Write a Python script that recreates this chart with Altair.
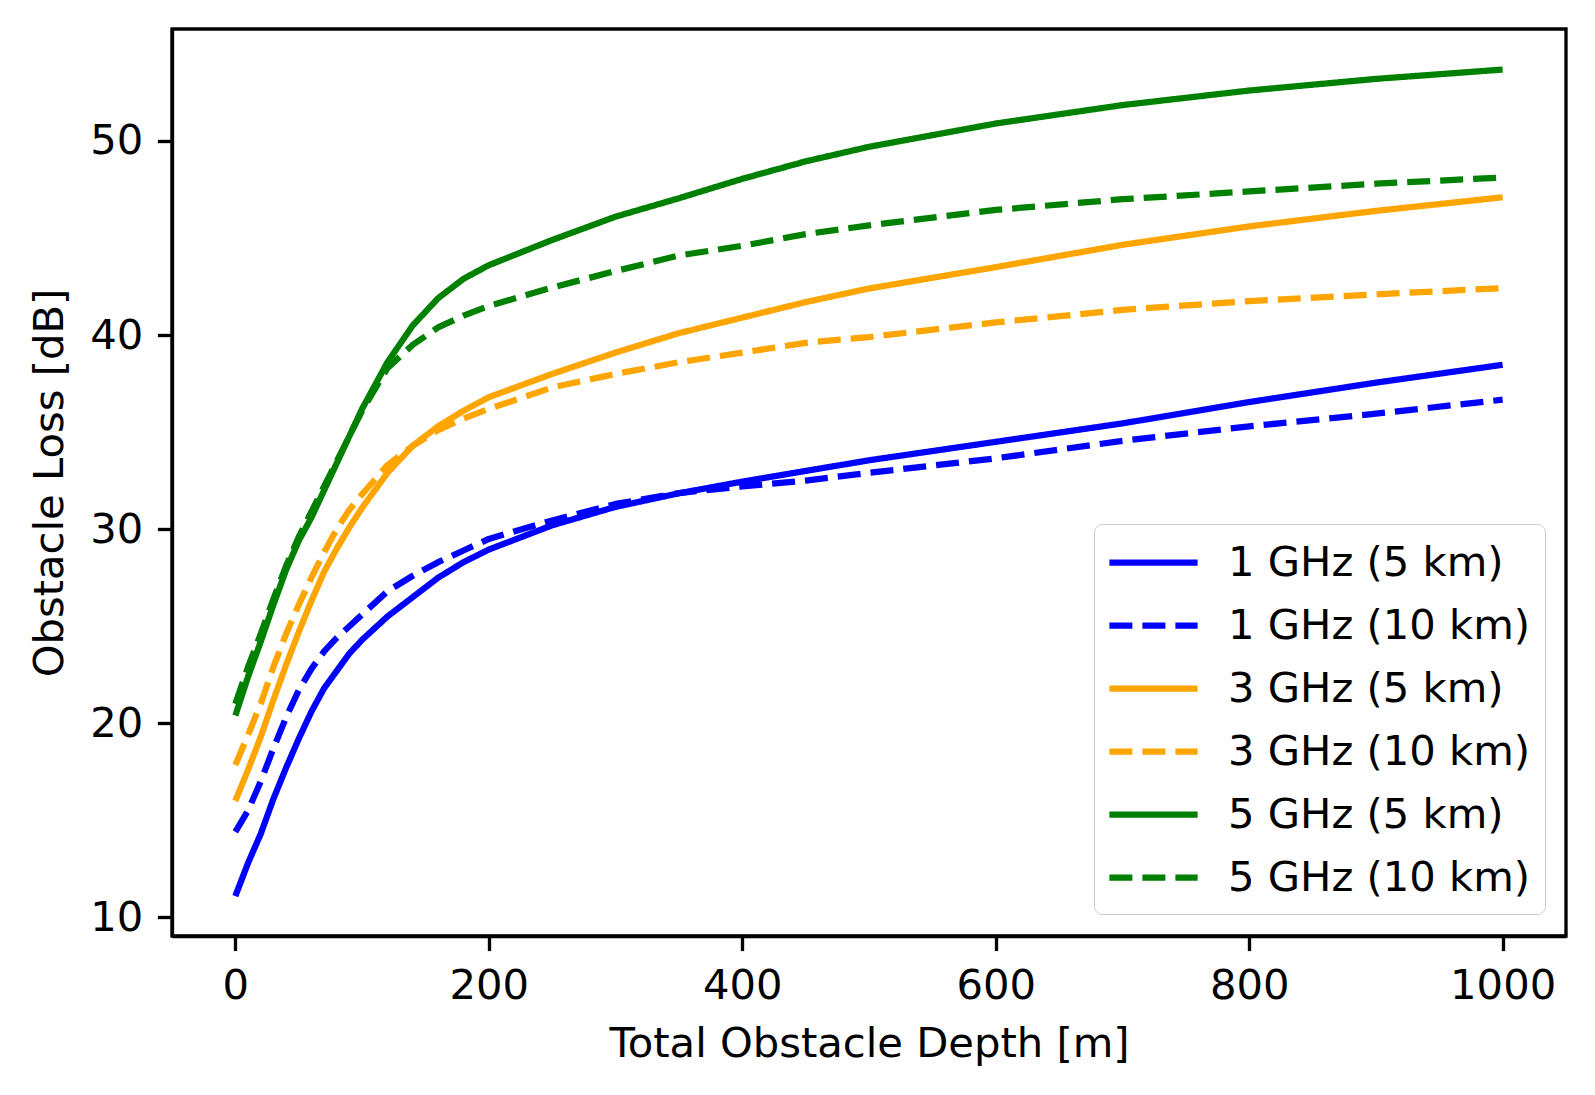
import altair as alt
import pandas as pd

depth = [0, 10, 20, 30, 40, 50, 60, 70, 80, 90, 100, 120, 140, 160, 180, 200,
         250, 300, 350, 400, 450, 500, 600, 700, 800, 900, 1000]

loss_1ghz_5km = [11.1, 12.8, 14.3, 16.1, 17.7, 19.2, 20.6, 21.8, 22.7, 23.6, 24.3,
                 25.5, 26.5, 27.5, 28.3, 28.95, 30.2, 31.15, 31.85, 32.45, 33.0,
                 33.55, 34.5, 35.45, 36.55, 37.55, 38.47]
loss_1ghz_10km = [14.4, 15.5, 17.0, 18.7, 20.3, 21.7, 22.8, 23.7, 24.4, 25.0, 25.6,
                  26.8, 27.6, 28.3, 28.9, 29.5, 30.45, 31.3, 31.86, 32.2, 32.5,
                  32.9, 33.65, 34.55, 35.3, 35.95, 36.67]
loss_3ghz_5km = [16.0, 17.6, 19.3, 21.2, 23.0, 24.7, 26.3, 27.8, 29.0, 30.1, 31.1,
                 32.9, 34.3, 35.3, 36.1, 36.8, 38.0, 39.1, 40.1, 40.9, 41.7,
                 42.4, 43.5, 44.65, 45.6, 46.4, 47.1]
loss_3ghz_10km = [17.85, 19.4, 21.0, 22.9, 24.6, 26.1, 27.5, 28.8, 30.0, 31.0, 31.8,
                  33.3, 34.3, 35.1, 35.7, 36.2, 37.3, 38.0, 38.6, 39.1, 39.6,
                  39.9, 40.65, 41.3, 41.75, 42.1, 42.42]
loss_5ghz_5km = [20.4, 22.4, 24.2, 26.1, 27.9, 29.4, 30.6, 32.0, 33.4, 34.8, 36.2,
                 38.6, 40.5, 41.9, 42.9, 43.6, 44.9, 46.1, 47.05, 48.05, 48.95,
                 49.7, 50.9, 51.85, 52.6, 53.2, 53.68]
loss_5ghz_10km = [21.0, 22.9, 24.6, 26.4, 28.1, 29.6, 30.9, 32.2, 33.5, 34.8, 36.1,
                  38.3, 39.5, 40.4, 41.0, 41.5, 42.45, 43.3, 44.1, 44.6, 45.2,
                  45.65, 46.45, 47.0, 47.4, 47.8, 48.12]

series_names = ["1 GHz (5 km)", "1 GHz (10 km)", "3 GHz (5 km)",
                "3 GHz (10 km)", "5 GHz (5 km)", "5 GHz (10 km)"]
series_values = [loss_1ghz_5km, loss_1ghz_10km, loss_3ghz_5km,
                 loss_3ghz_10km, loss_5ghz_5km, loss_5ghz_10km]
series_colors = ["blue", "blue", "orange", "orange", "green", "green"]
series_dashes = [[1, 0], [23, 10], [1, 0], [23, 10], [1, 0], [23, 10]]

x_ticks = [0, 200, 400, 600, 800, 1000]
y_ticks = [10, 20, 30, 40, 50]

rows = []
for name, vals in zip(series_names, series_values):
    for d, v in zip(depth, vals):
        rows.append({"series": name, "depth": d, "loss": v})
df = pd.DataFrame(rows)

FONT = "DejaVu Sans"
FS = 41.7

legend = alt.Legend(
    title=None,
    orient="none",
    legendX=922,
    legendY=495,
    symbolType="M-2.1,0L2.1,0",
    symbolStrokeWidth=6.25,
    symbolSize=1764,
    symbolOffset=21,
    labelFontSize=FS,
    labelFont=FONT,
    labelColor="black",
    labelOffset=50,
    rowPadding=16,
    padding=14,
    strokeColor="#cccccc",
    fillColor="white",
    cornerRadius=8,
    labelLimit=600,
)

chart = alt.Chart(df).mark_line(strokeWidth=6.25, strokeCap="butt", strokeJoin="round").encode(
    x=alt.X("depth:Q",
            scale=alt.Scale(domain=[-50, 1050], nice=False, zero=False),
            axis=alt.Axis(title="Total Obstacle Depth [m]", values=x_ticks, format="d",
                          grid=False, titlePadding=17)),
    y=alt.Y("loss:Q",
            scale=alt.Scale(domain=[9.04, 55.77], nice=False, zero=False),
            axis=alt.Axis(title="Obstacle Loss [dB]", values=y_ticks, format="d",
                          grid=False, titlePadding=18)),
    color=alt.Color("series:N", sort=series_names,
                    scale=alt.Scale(domain=series_names, range=series_colors),
                    legend=legend),
    strokeDash=alt.StrokeDash("series:N", sort=series_names,
                              scale=alt.Scale(domain=series_names, range=series_dashes),
                              legend=legend),
    detail="series:N",
).properties(
    width=1394,
    height=907,
    background="white",
    autosize=alt.AutoSizeParams(type="none"),
    padding={"left": 164, "top": 21, "right": 21, "bottom": 151},
).configure_view(
    stroke="black",
    strokeWidth=3.33,
).configure_axis(
    labelFont=FONT,
    titleFont=FONT,
    labelFontSize=FS,
    titleFontSize=FS,
    titleFontWeight="normal",
    labelColor="black",
    titleColor="black",
    domainColor="black",
    domainWidth=3.33,
    tickColor="black",
    tickWidth=3.33,
    tickSize=14.6,
    labelPadding=14.6,
)

chart.save("out.html", embed_options={"renderer": "svg", "actions": False})
